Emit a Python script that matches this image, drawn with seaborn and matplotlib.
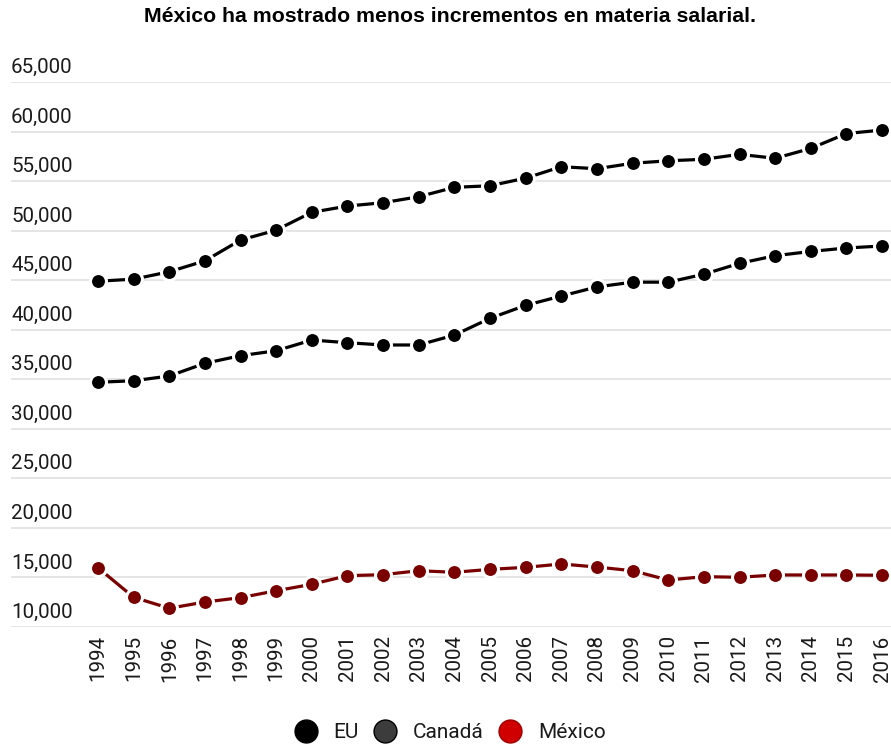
import matplotlib
matplotlib.use("Agg")
import matplotlib.pyplot as plt
from matplotlib.lines import Line2D
import seaborn as sns
import pandas as pd

# Salario medio anual por país (USD)
years = list(range(1994, 2017))
eu = [44900, 45100, 45850, 46950, 49050, 50050, 51850, 52480, 52820, 53420,
      54370, 54530, 55300, 56450, 56250, 56800, 57050, 57200, 57700, 57300,
      58300, 59800, 60150]
canada = [34700, 34850, 35330, 36610, 37380, 37880, 38960, 38690, 38460, 38460,
          39460, 41150, 42460, 43400, 44320, 44800, 44800, 45600, 46700, 47470,
          47900, 48250, 48450]
mexico = [15980, 13000, 11890, 12520, 12960, 13660, 14310, 15180, 15280, 15680,
          15520, 15820, 16020, 16360, 16050, 15680, 14740, 15080, 15020, 15250,
          15250, 15250, 15220]

series_names = ["EU", "Canadá", "México"]
line_colors = ["#000000", "#000000", "#7a0000"]
legend_colors = ["#000000", "#3c3c3c", "#d00000"]
y_ticks = [10000, 15000, 20000, 25000, 30000, 35000, 40000, 45000, 50000,
           55000, 60000, 65000]
title = "México ha mostrado menos incrementos en materia salarial."

df = pd.DataFrame({
    "year": years * 3,
    "value": eu + canada + mexico,
    "country": [series_names[0]] * len(years) + [series_names[1]] * len(years)
               + [series_names[2]] * len(years),
})

sns.set_theme(style="white")
plt.rcParams["font.family"] = ["Roboto", "DejaVu Sans"]

W, H = 891, 745
fig = plt.figure(figsize=(W / 100, H / 100), dpi=100)
ax = fig.add_axes([11 / W, (H - 627) / H, (W - 11) / W, (627 - 82) / H])

# light horizontal grid
for v in y_ticks:
    ax.axhline(v, color="#e3e3e3", lw=1.3, zorder=0)

sns.lineplot(data=df, x="year", y="value", hue="country",
             palette=dict(zip(series_names, line_colors)),
             marker="o", markersize=11.5, markeredgecolor="white",
             markeredgewidth=2.2, linewidth=2.3, legend=False, ax=ax,
             clip_on=False, zorder=3)

ax.set_xlim(1991.56, 2016.25)
ax.set_ylim(10000, 65000)
for s in ax.spines.values():
    s.set_visible(False)
ax.set_xlabel("")
ax.set_ylabel("")
ax.grid(False)

ax.set_xticks(years)
ax.set_xticklabels([str(y) for y in years], rotation=90, fontsize=14.8,
                   color="#1a1a1a", va="top")
ax.tick_params(axis="x", length=0, pad=6)
ax.set_yticks([])

for v in y_ticks:
    ax.annotate(f"{v:,}", xy=(0, v), xycoords=("axes fraction", "data"),
                xytext=(0, 5), textcoords="offset pixels", ha="left",
                va="bottom", fontsize=14.8, color="#1a1a1a")

fig.text(0.505, 1 - 17 / H, title, ha="center", va="center", fontsize=15.3,
         fontweight="bold", family=["Liberation Sans", "DejaVu Sans"],
         color="#000000")

handles = [Line2D([], [], linestyle="none", marker="o", markersize=16.5,
                  markerfacecolor=c, markeredgecolor="#000000" if i < 2 else "#a00000",
                  markeredgewidth=1)
           for i, c in enumerate(legend_colors)]
fig.legend(handles, series_names, loc="center", ncol=3,
           bbox_to_anchor=(0.505, 1 - 733 / H), frameon=False, fontsize=15,
           handletextpad=0.8, columnspacing=0.7, handlelength=1.1,
           labelcolor="#1a1a1a")

fig.savefig("out.png", dpi=100)
